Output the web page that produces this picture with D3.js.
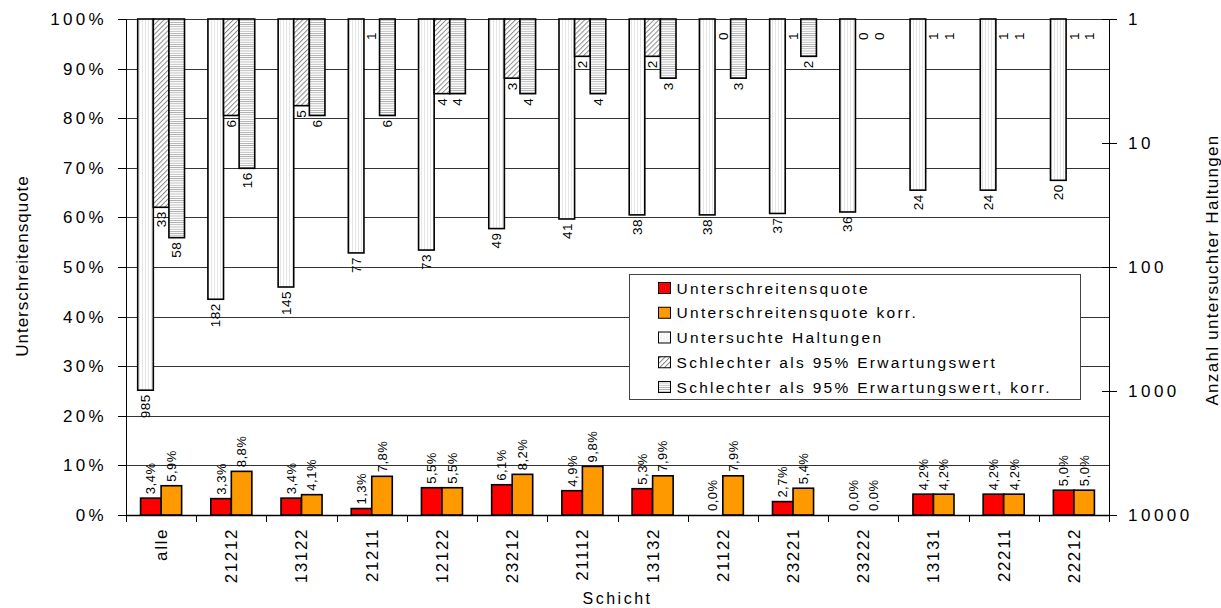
<!DOCTYPE html>
<html>
<head>
<meta charset="utf-8">
<script src="https://cdn.jsdelivr.net/npm/d3@7"></script>
<style>
  html, body { margin: 0; padding: 0; background: #fff; }
  svg { display: block; font-family: "Liberation Sans", Arial, sans-serif; }
</style>
</head>
<body>
<svg id="chart" width="1221" height="608"></svg>
<script>
const CATEGORIES = ["alle", "21212", "13122", "21211", "12122", "23212", "21112", "13132", "21122", "23221", "23222", "13131", "22211", "22212"];
// percent values (Unterschreitensquote)
const QUOTE = [3.4, 3.3, 3.4, 1.3, 5.5, 6.1, 4.9, 5.3, 0.0, 2.7, 0.0, 4.2, 4.2, 5.0];
const QUOTE_KORR = [5.9, 8.8, 4.1, 7.8, 5.5, 8.2, 9.8, 7.9, 7.9, 5.4, 0.0, 4.2, 4.2, 5.0];
// counts on the reversed log axis
const HALTUNGEN = [985, 182, 145, 77, 73, 49, 41, 38, 38, 37, 36, 24, 24, 20];
const SCHLECHTER = [33, 6, 5, 1, 4, 3, 2, 2, 0, 1, 0, 1, 1, 1];
const SCHLECHTER_KORR = [58, 16, 6, 6, 4, 4, 4, 3, 3, 2, 0, 1, 1, 1];
const PCT_TICKS = [0, 10, 20, 30, 40, 50, 60, 70, 80, 90, 100];
const COUNT_TICKS = [1, 10, 100, 1000, 10000];
const LEGEND_LABELS = [
  "Unterschreitensquote",
  "Unterschreitensquote korr.",
  "Untersuchte Haltungen",
  "Schlechter als 95% Erwartungswert",
  "Schlechter als 95% Erwartungswert, korr."
];

const WIDTH = 1221;
const HEIGHT = 608;
const MARGIN = { top: 19, right: 112, bottom: 93, left: 126 };
const plotRight = WIDTH - MARGIN.right;
const plotBottom = HEIGHT - MARGIN.bottom;

const svg = d3.select("#chart");

const x = d3.scaleBand().domain(CATEGORIES).range([MARGIN.left, plotRight]);
const xPrimary = d3.scaleBand().domain(["q", "k"]).range([0, x.bandwidth()]).paddingOuter(0.71);
const xSecondary = d3.scaleBand().domain(["n", "s", "k"]).range([0, x.bandwidth()]).paddingOuter(0.75);
const yPct = d3.scaleLinear().domain([0, 100]).range([plotBottom, MARGIN.top]);
const yCount = d3.scaleLog().domain([1, 10000]).range([MARGIN.top, plotBottom]);

const fmtPct = (v) => v.toFixed(1).replace(".", ",") + "%";

// patterns
const defs = svg.append("defs");
const vert = defs.append("pattern").attr("id", "pat-vert").attr("patternUnits", "userSpaceOnUse")
  .attr("width", 3).attr("height", 3);
vert.append("rect").attr("width", 3).attr("height", 3).attr("fill", "#fff");
vert.append("rect").attr("x", 1).attr("width", 1).attr("height", 3).attr("fill", "#e6e6e6");

const diag = defs.append("pattern").attr("id", "pat-diag").attr("patternUnits", "userSpaceOnUse")
  .attr("width", 3.5).attr("height", 3.5).attr("patternTransform", "rotate(45)");
diag.append("rect").attr("width", 3.5).attr("height", 3.5).attr("fill", "#fff");
diag.append("rect").attr("width", 1).attr("height", 3.5).attr("fill", "#8a8a8a");

const horiz = defs.append("pattern").attr("id", "pat-horiz").attr("patternUnits", "userSpaceOnUse")
  .attr("width", 3).attr("height", 2.2);
horiz.append("rect").attr("width", 3).attr("height", 2.2).attr("fill", "#fff");
horiz.append("rect").attr("width", 3).attr("height", 0.8).attr("fill", "#a8a8a8");

// gridlines
svg.append("g")
  .selectAll("line")
  .data(PCT_TICKS.filter((t) => t > 0))
  .join("line")
  .attr("x1", MARGIN.left)
  .attr("x2", plotRight)
  .attr("y1", (t) => Math.round(yPct(t)) + 0.5)
  .attr("y2", (t) => Math.round(yPct(t)) + 0.5)
  .attr("stroke", "#333");

// primary bars (percent)
const primary = CATEGORIES.map((c, i) => [
  { cat: c, key: "q", value: QUOTE[i], fill: "#ff0000" },
  { cat: c, key: "k", value: QUOTE_KORR[i], fill: "#ff9900" }
]).flat();

svg.append("g")
  .selectAll("rect")
  .data(primary.filter((d) => d.value > 0))
  .join("rect")
  .attr("x", (d) => x(d.cat) + xPrimary(d.key))
  .attr("width", xPrimary.bandwidth())
  .attr("y", (d) => yPct(d.value))
  .attr("height", (d) => plotBottom - yPct(d.value))
  .attr("fill", (d) => d.fill)
  .attr("stroke", "#000")
  .attr("stroke-width", 1.6);

svg.append("g")
  .selectAll("text")
  .data(primary)
  .join("text")
  .attr("transform", (d) => `translate(${x(d.cat) + xPrimary(d.key) + xPrimary.bandwidth() / 2},${yPct(d.value) - 4}) rotate(-90)`)
  .attr("dy", "0.35em")
  .attr("font-size", 13)
  .style("letter-spacing", "0.5px")
  .text((d) => fmtPct(d.value));

// secondary bars (counts, reversed log axis hanging from the top)
const secondary = CATEGORIES.map((c, i) => [
  { cat: c, key: "n", value: HALTUNGEN[i], fill: "url(#pat-vert)" },
  { cat: c, key: "s", value: SCHLECHTER[i], fill: "url(#pat-diag)" },
  { cat: c, key: "k", value: SCHLECHTER_KORR[i], fill: "url(#pat-horiz)" }
]).flat();

svg.append("g")
  .selectAll("rect")
  .data(secondary.filter((d) => d.value > 1))
  .join("rect")
  .attr("x", (d) => x(d.cat) + xSecondary(d.key))
  .attr("width", xSecondary.bandwidth())
  .attr("y", MARGIN.top)
  .attr("height", (d) => yCount(d.value) - MARGIN.top)
  .attr("fill", (d) => d.fill)
  .attr("stroke", "#000")
  .attr("stroke-width", 1.6);

svg.append("g")
  .selectAll("text")
  .data(secondary)
  .join("text")
  .attr("transform", (d) => {
    const end = d.value > 1 ? yCount(d.value) + 4 : MARGIN.top + 13;
    return `translate(${x(d.cat) + xSecondary(d.key) + xSecondary.bandwidth() / 2},${end}) rotate(-90)`;
  })
  .attr("dy", "0.35em")
  .attr("text-anchor", "end")
  .attr("font-size", 13.5)
  .style("letter-spacing", "0.5px")
  .text((d) => d.value);

// axes
const axes = svg.append("g").attr("stroke", "#000").attr("stroke-width", 1);
axes.append("line")
  .attr("x1", MARGIN.left + 0.5).attr("x2", MARGIN.left + 0.5)
  .attr("y1", MARGIN.top).attr("y2", plotBottom + 7);
axes.append("line")
  .attr("x1", plotRight + 0.5).attr("x2", plotRight + 0.5)
  .attr("y1", MARGIN.top).attr("y2", plotBottom + 7);
axes.append("line")
  .attr("x1", MARGIN.left).attr("x2", plotRight)
  .attr("y1", Math.round(plotBottom) + 0.5).attr("y2", Math.round(plotBottom) + 0.5)
  .attr("stroke-width", 1.5);

axes.selectAll(".tick-left")
  .data(PCT_TICKS)
  .join("line")
  .attr("x1", MARGIN.left - 8).attr("x2", MARGIN.left)
  .attr("y1", (t) => Math.round(yPct(t)) + 0.5)
  .attr("y2", (t) => Math.round(yPct(t)) + 0.5);

axes.selectAll(".tick-right")
  .data(COUNT_TICKS)
  .join("line")
  .attr("x1", plotRight - 7).attr("x2", plotRight + 8)
  .attr("y1", (t) => Math.round(yCount(t)) + 0.5)
  .attr("y2", (t) => Math.round(yCount(t)) + 0.5);

axes.selectAll(".tick-bottom")
  .data(CATEGORIES.slice(1))
  .join("line")
  .attr("x1", (c) => Math.round(x(c)) + 0.5).attr("x2", (c) => Math.round(x(c)) + 0.5)
  .attr("y1", plotBottom).attr("y2", plotBottom + 7);

// tick labels
svg.append("g")
  .selectAll("text")
  .data(PCT_TICKS)
  .join("text")
  .attr("x", 107)
  .attr("y", (t) => yPct(t))
  .attr("dy", "0.35em")
  .attr("text-anchor", "end")
  .attr("font-size", 17)
  .style("letter-spacing", "3.3px")
  .text((t) => `${t}%`);

svg.append("g")
  .selectAll("text")
  .data(COUNT_TICKS)
  .join("text")
  .attr("x", 1128)
  .attr("y", (t) => yCount(t))
  .attr("dy", "0.35em")
  .attr("font-size", 17)
  .style("letter-spacing", "3.5px")
  .text((t) => t);

svg.append("g")
  .selectAll("text")
  .data(CATEGORIES)
  .join("text")
  .attr("transform", (c) => `translate(${x(c) + x.bandwidth() / 2},528) rotate(-90)`)
  .attr("dy", "0.35em")
  .attr("text-anchor", "end")
  .attr("font-size", 17)
  .style("letter-spacing", "1.6px")
  .text((c) => c);

// axis titles
svg.append("text")
  .attr("transform", "translate(22,266) rotate(-90)")
  .attr("dy", "0.35em")
  .attr("text-anchor", "middle")
  .attr("font-size", 17)
  .style("letter-spacing", "1px")
  .text("Unterschreitensquote");

svg.append("text")
  .attr("transform", "translate(1212,270) rotate(-90)")
  .attr("dy", "0.35em")
  .attr("text-anchor", "middle")
  .attr("font-size", 17)
  .style("letter-spacing", "1.3px")
  .text("Anzahl untersuchter Haltungen");

svg.append("text")
  .attr("x", (MARGIN.left + plotRight) / 2)
  .attr("y", 604)
  .attr("text-anchor", "middle")
  .attr("font-size", 16)
  .style("letter-spacing", "2.5px")
  .text("Schicht");

// legend
const legendFills = ["#ff0000", "#ff9900", "url(#pat-vert)", "url(#pat-diag)", "url(#pat-horiz)"];
const legend = svg.append("g").attr("transform", "translate(629.5,274.5)");
legend.append("rect")
  .attr("width", 451)
  .attr("height", 125)
  .attr("fill", "#fff")
  .attr("stroke", "#444");

const legendRows = legend
  .selectAll(".legend-row")
  .data(LEGEND_LABELS)
  .join("g")
  .attr("class", "legend-row")
  .attr("transform", (label, i) => `translate(0,${13.5 + i * 24.75})`);

legendRows.append("rect")
  .attr("x", 29)
  .attr("y", -5.5)
  .attr("width", 12)
  .attr("height", 11)
  .attr("fill", (label, i) => legendFills[i])
  .attr("stroke", "#000");

legendRows.append("text")
  .attr("x", 47)
  .attr("dy", "0.36em")
  .attr("font-size", 15.5)
  .style("letter-spacing", "2.3px")
  .text((label) => label);
</script>
</body>
</html>
